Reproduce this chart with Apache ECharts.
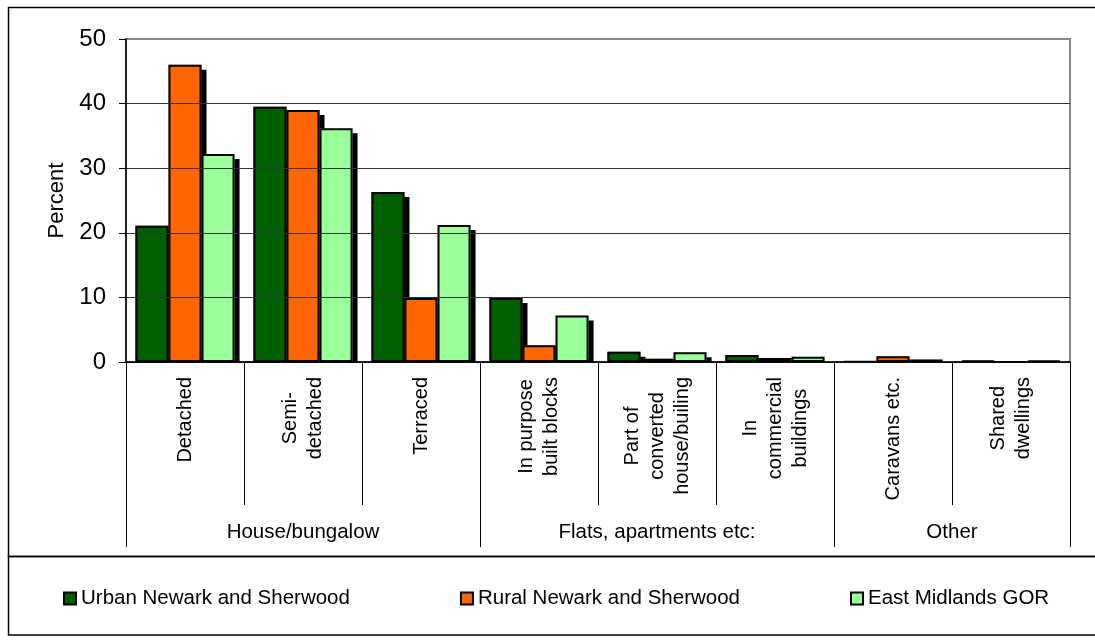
<!DOCTYPE html>
<html>
<head>
<meta charset="utf-8">
<script src="https://cdn.jsdelivr.net/npm/echarts@6/dist/echarts.min.js"></script>
<style>
html,body{margin:0;padding:0;background:#fff;}
#chart{width:1095px;height:640px;}
</style>
</head>
<body>
<div id="chart"></div>
<script>
// ---- data ----
var categories = ['Detached', 'Semi-\ndetached', 'Terraced', 'In purpose\nbuilt blocks',
  'Part of\nconverted\nhouse/builing', 'In\ncommercial\nbuildings', 'Caravans etc.', 'Shared\ndwellings'];
var groupNames = ['House/bungalow', 'Flats, apartments etc:', 'Other'];
var groupSpans = [3, 3, 2];
var seriesNames = ['Urban Newark and Sherwood', 'Rural Newark and Sherwood', 'East Midlands GOR'];
var urbanValues = [21.1, 39.5, 26.3, 9.9, 1.6, 1.1, 0.1, 0.2];
var ruralValues = [46.0, 39.0, 9.9, 2.6, 0.5, 0.6, 0.9, 0.0];
var eastMidlandsValues = [32.2, 36.2, 21.2, 7.2, 1.5, 0.8, 0.4, 0.2];
var yTicks = [0, 10, 20, 30, 40, 50];

// ---- derived group boundaries / centres ----
var boundaries = [0];
var centres = [];
groupSpans.forEach(function (s) {
  var start = boundaries[boundaries.length - 1];
  centres.push(start + s / 2);
  boundaries.push(start + s);
});

var FONT = "'Liberation Sans', Arial, sans-serif";
var colors = ['#006000', '#FF6600', '#99FF99'];
var allValues = [urbanValues, ruralValues, eastMidlandsValues];

// fill series (with drop shadow) on xAxis 0
var fillSeries = seriesNames.map(function (name, i) {
  return {
    name: name, type: 'bar', xAxisIndex: 0, data: allValues[i],
    barGap: '0%', barCategoryGap: '16%',
    itemStyle: { color: colors[i], borderWidth: 0, shadowColor: '#000', shadowBlur: 0, shadowOffsetX: 5, shadowOffsetY: 5 },
    emphasis: { disabled: true }
  };
});
// outline series (no shadow) on hidden twin category axis, drawn on top
var outlineSeries = seriesNames.map(function (name, i) {
  return {
    name: name + ' outline', type: 'bar', xAxisIndex: 3, data: allValues[i],
    barGap: '0%', barCategoryGap: '16%',
    itemStyle: { color: 'rgba(0,0,0,0)', borderColor: '#000', borderWidth: 2 },
    emphasis: { disabled: true }
  };
});

var chart = echarts.init(document.getElementById('chart'));
var option = {
  animation: false,
  backgroundColor: '#fff',
  textStyle: { fontFamily: FONT },
  grid: { left: 126, top: 39, right: 25, bottom: 278, show: true, borderColor: '#888', borderWidth: 2, containLabel: false },
  legend: {
    data: seriesNames,
    left: 63, top: 588, padding: 0,
    itemWidth: 12, itemHeight: 12, itemGap: 110,
    icon: 'rect',
    itemStyle: { borderColor: '#000', borderWidth: 2, shadowBlur: 0, shadowOffsetX: 0, shadowOffsetY: 0, shadowColor: 'rgba(0,0,0,0)' },
    textStyle: { fontSize: 20.5, color: '#000', fontFamily: FONT }
  },
  xAxis: [
    {
      type: 'category', data: categories, gridIndex: 0, z: 4,
      axisLine: { show: true, lineStyle: { color: '#000', width: 1.5 } },
      axisTick: { show: true, length: 143, interval: 0, lineStyle: { color: '#000', width: 1 } },
      axisLabel: {
        interval: 0, rotate: 90, margin: 15, color: '#000', fontSize: 20, fontFamily: FONT,
        formatter: function (v) { return v.split('\n').map(function (l) { return '{c|' + l + '}'; }).join('\n'); },
        rich: { c: { align: 'center', fontSize: 20, lineHeight: 25, fontFamily: FONT, color: '#000' } }
      },
      splitLine: { show: false }
    },
    {
      type: 'value', min: 0, max: categories.length, gridIndex: 0, position: 'bottom', z: 4,
      axisLine: { show: false },
      axisTick: { show: true, length: 185, customValues: boundaries, lineStyle: { color: '#000', width: 1 } },
      axisLabel: {
        customValues: centres, margin: 160, color: '#000', fontSize: 20.5, fontFamily: FONT,
        formatter: function (v) { var i = centres.indexOf(v); return i >= 0 ? groupNames[i] : ''; }
      },
      splitLine: { show: false }
    },
    {
      // white mask line under the plot so bar shadows stay inside the plot area
      type: 'category', data: categories, gridIndex: 0, position: 'bottom', offset: 4, z: 3,
      axisLine: { show: true, lineStyle: { color: '#fff', width: 8 } },
      axisTick: { show: false }, axisLabel: { show: false }, splitLine: { show: false }
    },
    {
      // hidden twin axis for bar outlines
      type: 'category', data: categories, gridIndex: 0, show: false
    }
  ],
  yAxis: {
    type: 'value', min: yTicks[0], max: yTicks[yTicks.length - 1], interval: 10, z: 4,
    name: 'Percent', nameLocation: 'middle', nameGap: 58,
    nameTextStyle: { fontSize: 22, color: '#000', fontFamily: FONT },
    axisLine: { show: true, lineStyle: { color: '#000', width: 1.5 } },
    axisTick: { show: true, length: 7, lineStyle: { color: '#000', width: 1 } },
    axisLabel: { margin: 20, fontSize: 24, color: '#000', fontFamily: FONT },
    splitLine: { show: true, showMaxLine: false, lineStyle: { color: '#333', width: 1 } }
  },
  series: fillSeries.concat(outlineSeries),
  graphic: [
    { type: 'rect', z: 100, silent: true, shape: { x: 8.5, y: 7.5, width: 1100, height: 549 }, style: { fill: 'none', stroke: '#000', lineWidth: 1.5 } },
    { type: 'rect', z: 100, silent: true, shape: { x: 8.5, y: 556.5, width: 1100, height: 78.5 }, style: { fill: 'none', stroke: '#000', lineWidth: 1.5 } }
  ]
};
chart.setOption(option);
</script>
</body>
</html>
